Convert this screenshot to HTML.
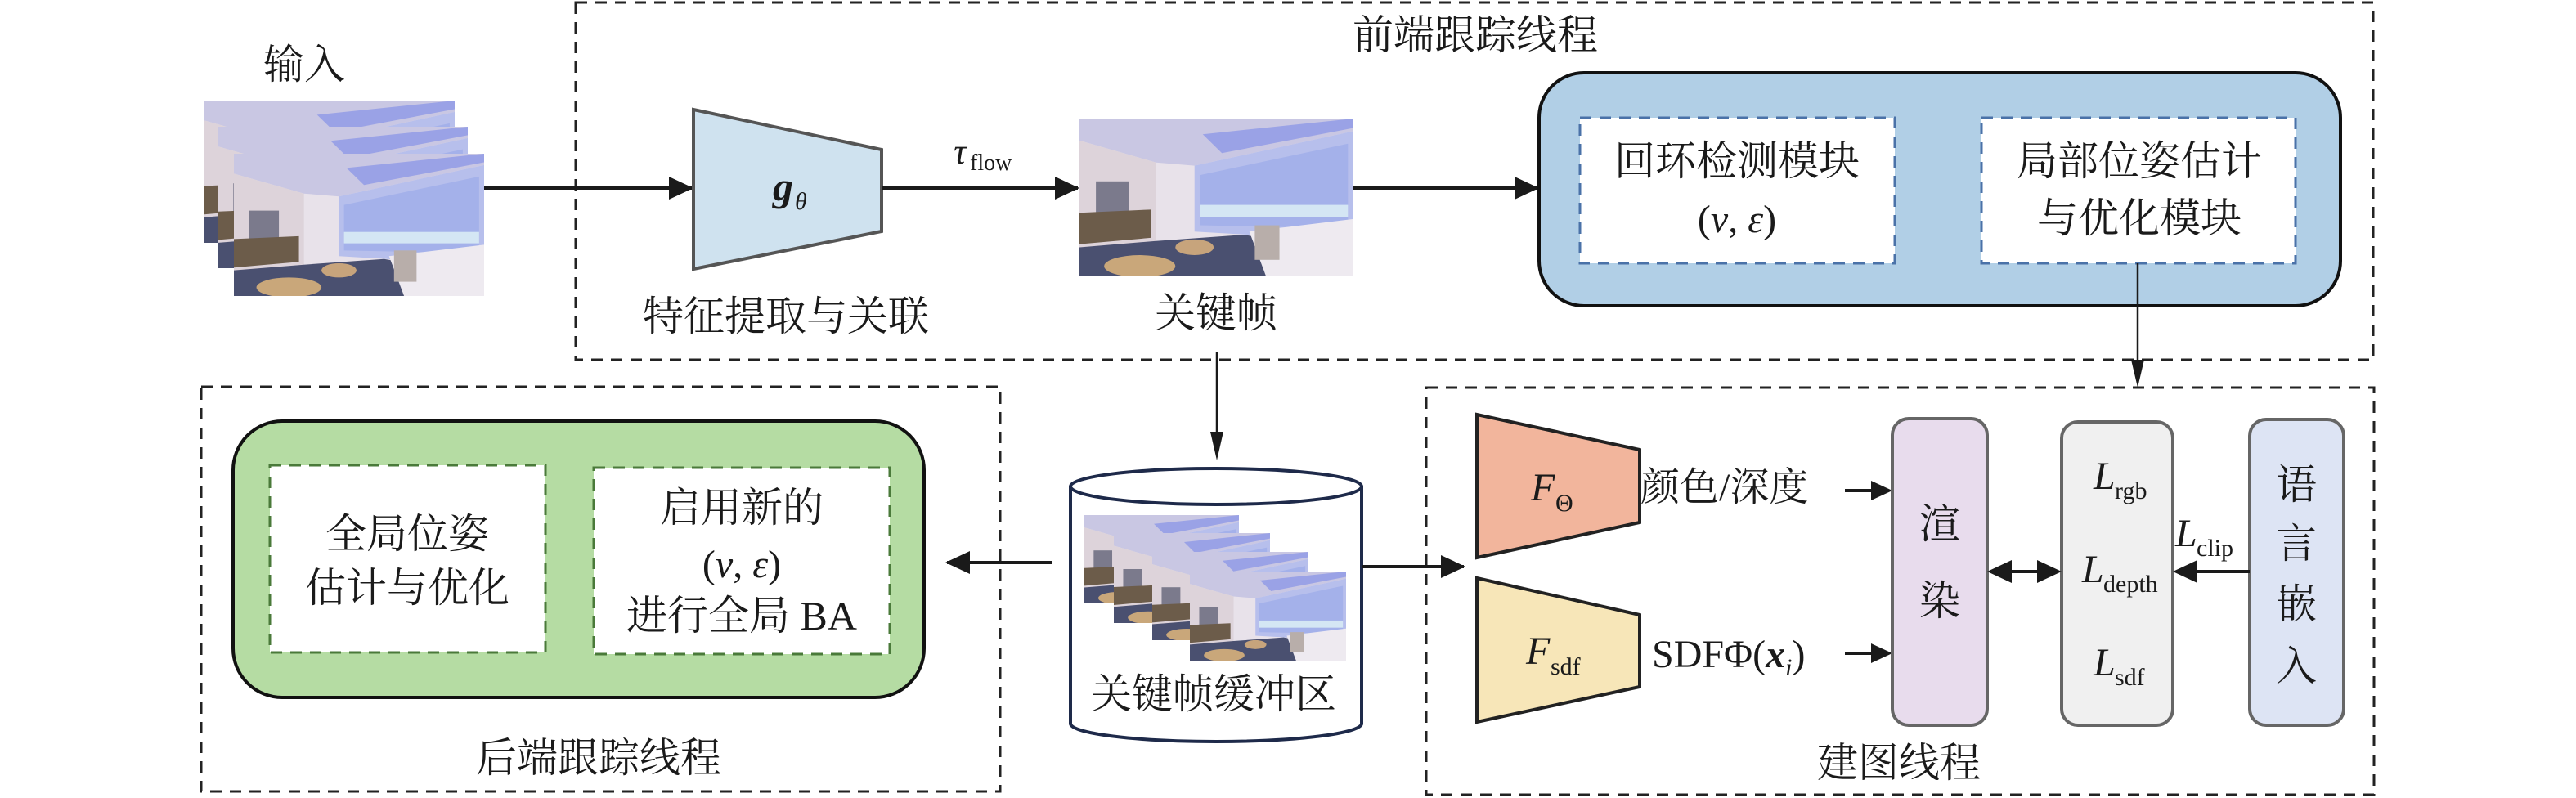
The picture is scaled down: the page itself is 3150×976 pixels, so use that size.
<!DOCTYPE html>
<html><head><meta charset="utf-8"><style>
html,body{margin:0;padding:0;background:#fff;}
svg{display:block;}
text{font-family:"Liberation Serif","Noto Serif CJK SC",serif;fill:#1a1a1a;}
</style></head><body>
<svg width="3150" height="976" viewBox="0 0 3150 976" xmlns="http://www.w3.org/2000/svg">
<defs>
<symbol id="room" viewBox="0 0 100 100" preserveAspectRatio="none">
<rect width="100" height="100" fill="#e8e2ea"/>
<polygon points="0,0 100,0 100,8 42,30 28,28 0,14" fill="#c9c7e3"/>
<polygon points="45,10 100,0 100,6 52,22" fill="#9aa2e6"/>
<polygon points="0,14 28,28 28,80 0,88" fill="#ddd3da"/>
<polygon points="42,30 100,8 100,78 42,72" fill="#b7bfec"/>
<polygon points="44,36 98,16 98,70 44,68" fill="#a4b1ea"/>
<rect x="44" y="55" width="54" height="8" fill="#d4e6f4"/>
<rect x="6" y="40" width="12" height="20" fill="#7b7a8c"/>
<polygon points="0,60 26,58 26,76 0,80" fill="#6c5c4a"/>
<polygon points="0,82 28,78 60,74 100,86 100,100 0,100" fill="#4a5070"/>
<ellipse cx="22" cy="94" rx="13" ry="7" fill="#c9a77a"/>
<ellipse cx="42" cy="82" rx="7" ry="5" fill="#c7a47c"/>
<polygon points="62,72 100,64 100,100 68,100" fill="#eeeaf0"/>
<rect x="64" y="68" width="9" height="22" fill="#b8aeaa"/>
</symbol>
</defs>

<rect x="704" y="3" width="2198" height="437" fill="none" stroke="#222" stroke-width="3" stroke-dasharray="14,10"/>
<rect x="246" y="473" width="977" height="495" fill="none" stroke="#222" stroke-width="3" stroke-dasharray="14,10"/>
<rect x="1744" y="474" width="1159" height="498" fill="none" stroke="#222" stroke-width="3" stroke-dasharray="14,10"/>

<text x="372" y="96" font-size="50" text-anchor="middle">输入</text>
<use href="#room" x="250" y="123" width="306" height="174"/>
<use href="#room" x="267" y="155" width="305" height="173"/>
<use href="#room" x="286" y="188" width="306" height="174"/>
<line x1="592" y1="230" x2="846" y2="230" stroke="#1a1a1a" stroke-width="4"/>
<path d="M848,230 L818,216 L818,244 z" fill="#1a1a1a"/>

<polygon points="848,134 1078,183 1078,283 848,329" fill="#cfe2ef" stroke="#555" stroke-width="4"/>
<text x="945" y="245" font-size="50" font-weight="bold" font-style="italic">g</text><text x="972" y="256" font-size="30" font-style="italic">θ</text>
<text x="1166" y="200" font-size="44" font-style="italic">τ</text><text x="1186" y="208" font-size="28">flow</text>
<line x1="1078" y1="230" x2="1318" y2="230" stroke="#1a1a1a" stroke-width="4"/>
<path d="M1320,230 L1290,216 L1290,244 z" fill="#1a1a1a"/>
<use href="#room" x="1320" y="145" width="335" height="192"/>
<text x="961" y="404" font-size="50" text-anchor="middle">特征提取与关联</text>
<text x="1487" y="400" font-size="50" text-anchor="middle">关键帧</text>
<text x="1804" y="60" font-size="50" text-anchor="middle">前端跟踪线程</text>

<line x1="1655" y1="230" x2="1880" y2="230" stroke="#1a1a1a" stroke-width="4"/>
<path d="M1882,230 L1852,216 L1852,244 z" fill="#1a1a1a"/>

<rect x="1882" y="89" width="980" height="285" rx="55" fill="#b1cfe6" stroke="#111" stroke-width="4"/>
<rect x="1932" y="144" width="385" height="178" fill="#fff" stroke="#4a72a8" stroke-width="3" stroke-dasharray="14,10"/>
<rect x="2423" y="144" width="384" height="178" fill="#fff" stroke="#4a72a8" stroke-width="3" stroke-dasharray="14,10"/>
<text x="2124" y="214" font-size="50" text-anchor="middle">回环检测模块</text>
<text x="2124" y="284" font-size="48" text-anchor="middle">(<tspan font-style="italic">v</tspan>, <tspan font-style="italic">ε</tspan>)</text>
<text x="2616" y="214" font-size="50" text-anchor="middle">局部位姿估计</text>
<text x="2616" y="284" font-size="50" text-anchor="middle">与优化模块</text>
<line x1="2614" y1="322" x2="2614" y2="455" stroke="#1a1a1a" stroke-width="2.5"/>
<path d="M2614,474 L2606,440 L2622,440 z" fill="#1a1a1a"/>

<line x1="1488" y1="430" x2="1488" y2="545" stroke="#1a1a1a" stroke-width="2.5"/>
<path d="M1488,563 L1480,528 L1496,528 z" fill="#1a1a1a"/>

<path d="M1309,595 L1309,885 A178,22 0 0 0 1665,885 L1665,595" fill="#fff" stroke="#1e2a4a" stroke-width="4"/>
<ellipse cx="1487" cy="595" rx="178" ry="22" fill="#fff" stroke="#1e2a4a" stroke-width="4"/>
<use href="#room" x="1326" y="630" width="189" height="108"/>
<use href="#room" x="1362" y="652" width="191" height="110"/>
<use href="#room" x="1409" y="675" width="191" height="108"/>
<use href="#room" x="1455" y="699" width="191" height="109"/>
<text x="1484" y="866" font-size="50" text-anchor="middle">关键帧缓冲区</text>

<line x1="1287" y1="688" x2="1158" y2="688" stroke="#1a1a1a" stroke-width="4"/>
<path d="M1156,688 L1186,674 L1186,702 z" fill="#1a1a1a"/>
<line x1="1665" y1="693" x2="1790" y2="693" stroke="#1a1a1a" stroke-width="4"/>
<path d="M1792,693 L1762,679 L1762,707 z" fill="#1a1a1a"/>

<rect x="285" y="515" width="845" height="338" rx="60" fill="#b5dca3" stroke="#111" stroke-width="4"/>
<rect x="330" y="569" width="337" height="229" fill="#fff" stroke="#4a7a3a" stroke-width="3" stroke-dasharray="14,10"/>
<rect x="726" y="572" width="362" height="228" fill="#fff" stroke="#4a7a3a" stroke-width="3" stroke-dasharray="14,10"/>
<text x="498" y="670" font-size="50" text-anchor="middle">全局位姿</text>
<text x="498" y="736" font-size="50" text-anchor="middle">估计与优化</text>
<text x="907" y="638" font-size="50" text-anchor="middle">启用新的</text>
<text x="907" y="706" font-size="48" text-anchor="middle">(<tspan font-style="italic">v</tspan>, <tspan font-style="italic">ε</tspan>)</text>
<text x="907" y="770" font-size="50" text-anchor="middle">进行全局 BA</text>
<text x="732" y="944" font-size="50" text-anchor="middle">后端跟踪线程</text>

<polygon points="1806,507 2005,550 2005,639 1806,682" fill="#f2b59c" stroke="#222" stroke-width="4"/>
<polygon points="1806,707 2005,752 2005,840 1806,883" fill="#f7e6b8" stroke="#222" stroke-width="4"/>
<text x="1872" y="612" font-size="48" font-style="italic">F</text><text x="1902" y="625" font-size="30">Θ</text>
<text x="1866" y="812" font-size="48" font-style="italic">F</text><text x="1896" y="825" font-size="30">sdf</text>
<text x="2006" y="612" font-size="48">颜色/深度</text>
<line x1="2256" y1="600" x2="2294" y2="600" stroke="#1a1a1a" stroke-width="4"/>
<path d="M2314,600 L2288,588 L2288,612 z" fill="#1a1a1a"/>
<text x="2020" y="816" font-size="48">SDFΦ(<tspan font-weight="bold" font-style="italic">x</tspan><tspan font-size="30" font-style="italic" dy="10">i</tspan><tspan dy="-10">)</tspan></text>
<line x1="2256" y1="799" x2="2294" y2="799" stroke="#1a1a1a" stroke-width="4"/>
<path d="M2314,799 L2288,787 L2288,811 z" fill="#1a1a1a"/>

<rect x="2314" y="512" width="116" height="375" rx="20" fill="#e8dced" stroke="#666" stroke-width="4"/>
<text x="2372" y="658" font-size="50" text-anchor="middle">渲</text>
<text x="2372" y="752" font-size="50" text-anchor="middle">染</text>
<rect x="2521" y="516" width="136" height="371" rx="20" fill="#f0f0f0" stroke="#666" stroke-width="4"/>
<text x="2560" y="598" font-size="48" font-style="italic">L</text><text x="2586" y="610" font-size="30">rgb</text>
<text x="2546" y="712" font-size="48" font-style="italic">L</text><text x="2572" y="724" font-size="30">depth</text>
<text x="2560" y="826" font-size="48" font-style="italic">L</text><text x="2586" y="838" font-size="30">sdf</text>
<rect x="2751" y="513" width="115" height="374" rx="20" fill="#dde4f4" stroke="#666" stroke-width="4"/>
<text x="2808" y="610" font-size="50" text-anchor="middle">语</text>
<text x="2808" y="682" font-size="50" text-anchor="middle">言</text>
<text x="2808" y="756" font-size="50" text-anchor="middle">嵌</text>
<text x="2808" y="832" font-size="50" text-anchor="middle">入</text>
<text x="2660" y="668" font-size="48" font-style="italic">L</text><text x="2686" y="680" font-size="30">clip</text>
<line x1="2751" y1="699" x2="2680" y2="699" stroke="#1a1a1a" stroke-width="4"/>
<path d="M2657,699 L2687,685 L2687,713 z" fill="#1a1a1a"/>
<path d="M2430,699 L2460,685 L2460,713 z" fill="#1a1a1a"/>
<path d="M2521,699 L2491,685 L2491,713 z" fill="#1a1a1a"/>
<line x1="2458" y1="699" x2="2493" y2="699" stroke="#1a1a1a" stroke-width="4"/>
<text x="2322" y="950" font-size="50" text-anchor="middle">建图线程</text>
</svg>
</body></html>
